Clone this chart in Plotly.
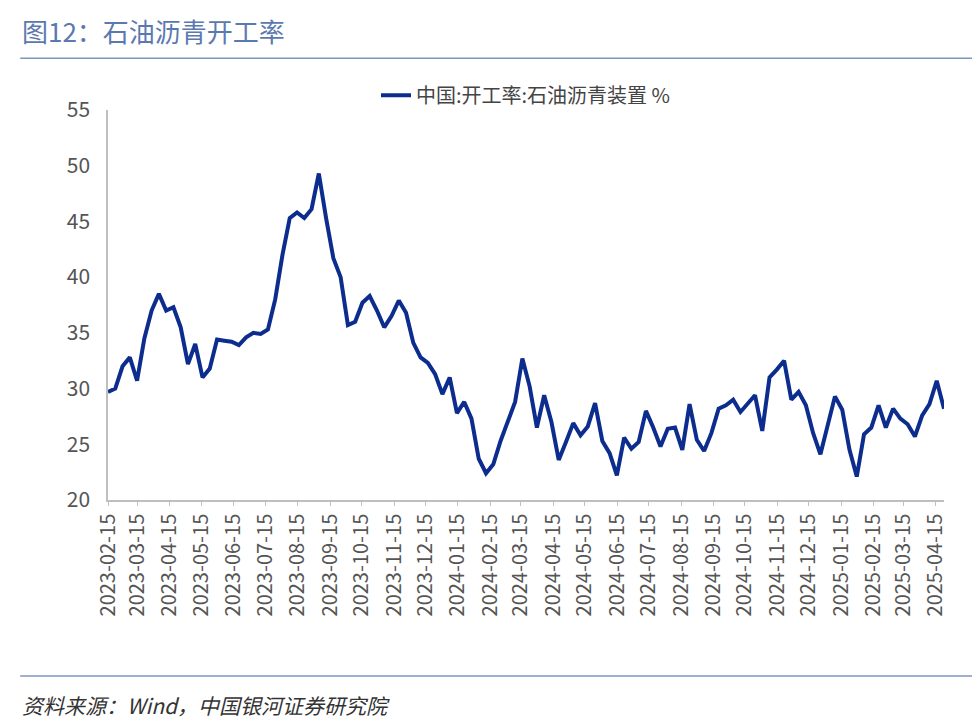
import pandas as pd
import plotly.graph_objects as go

values = [29.7,30.0,32.0,32.8,30.7,34.5,37.0,38.5,37.0,37.3,35.5,32.2,34.0,31.0,31.8,34.4,34.3,34.2,33.9,34.6,
35.0,34.9,35.3,38.0,42.0,45.3,45.8,45.3,46.1,49.3,45.3,41.7,40.0,35.7,36.0,37.7,38.3,37.0,35.5,36.5,
37.9,36.8,34.1,32.8,32.3,31.3,29.5,31.0,27.8,28.8,27.3,23.7,22.4,23.2,25.3,27.0,28.8,32.7,30.2,26.5,
29.4,27.0,23.6,25.2,26.9,25.8,26.6,28.7,25.3,24.2,22.2,25.6,24.6,25.2,28.0,26.5,24.8,26.4,26.5,24.5,
28.6,25.4,24.4,26.0,28.2,28.5,29.0,27.9,28.7,29.4,26.2,31.0,31.7,32.5,29.0,29.7,28.5,26.0,24.1,26.6,
29.3,28.1,24.5,22.1,25.9,26.5,28.5,26.5,28.2,27.3,26.8,25.7,27.6,28.6,30.7,28.2]
end = pd.Timestamp("2025-04-23")
dates = pd.date_range("2023-02-15", end, periods=len(values))
tick_dates = pd.date_range("2023-02-01", periods=27, freq="MS") + pd.Timedelta(days=14)
tick_text = [d.strftime("%Y-%m-%d") for d in tick_dates]

fig = go.Figure()
fig.add_trace(go.Scatter(x=dates, y=values, mode="lines", name="中国:开工率:石油沥青装置 %",
                         line=dict(color="#0c2d8e", width=4)))
fig.update_layout(
    width=980, height=724, plot_bgcolor="white", paper_bgcolor="white",
    margin=dict(l=100, r=44, t=102, b=232, autoexpand=False),
    font=dict(family="Noto Sans CJK SC", size=20, color="#555555"),
    showlegend=True,
    legend=dict(orientation="h", x=0.5, xanchor="center", y=1.038, yanchor="middle",
                font=dict(size=20, color="#444444")),
    xaxis=dict(range=[dates[0], end], tickvals=tick_dates, ticktext=tick_text, tickangle=-90,
               showgrid=False, showline=True, linecolor="#bfbfbf", linewidth=1.5, automargin=False,
               ticks="outside", ticklen=4, tickcolor="#bfbfbf", tickfont=dict(size=20, color="#555555")),
    yaxis=dict(range=[20, 55], dtick=5, showgrid=False, showline=True, linecolor="#bfbfbf",
               linewidth=1.5, automargin=False, tickfont=dict(size=21, color="#555555"), ticklabelstandoff=12),
    shapes=[
        dict(type="line", xref="paper", yref="paper", x0=-0.105, x1=1.035, y0=1.133, y1=1.133,
             line=dict(color="#7f95c0", width=1.5)),
        dict(type="line", xref="paper", yref="paper", x0=-0.105, x1=1.035, y0=-0.451, y1=-0.451,
             line=dict(color="#7f95c0", width=1.5)),
    ],
    annotations=[
        dict(text="图12：石油沥青开工率", xref="paper", yref="paper", x=-0.105, y=1.205,
             xanchor="left", yanchor="middle", showarrow=False,
             font=dict(size=26, color="#5b79b0")),
        dict(text="<i>资料来源：Wind，中国银河证券研究院</i>", xref="paper", yref="paper", x=-0.105, y=-0.526,
             xanchor="left", yanchor="middle", showarrow=False,
             font=dict(size=21, color="#333333")),
    ],
)
fig.write_html("out.html")
